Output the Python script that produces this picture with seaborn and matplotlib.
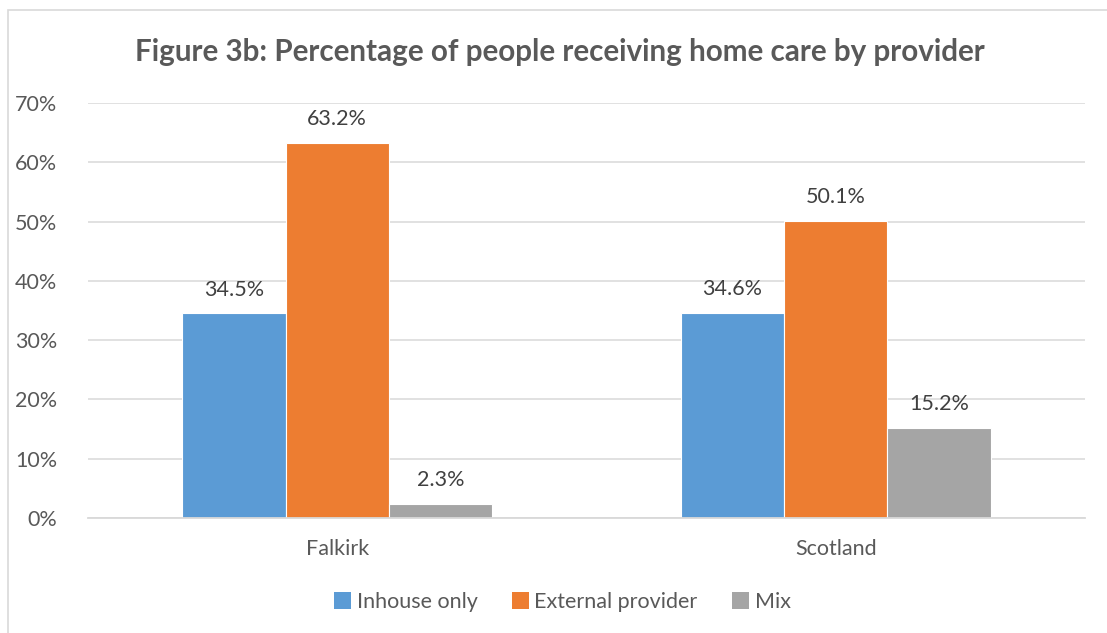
import matplotlib
matplotlib.use("Agg")
import matplotlib.pyplot as plt
from matplotlib.patches import Rectangle, Patch
import seaborn as sns
import pandas as pd

# Chart data
areas = ["Falkirk", "Scotland"]
providers = ["Inhouse only", "External provider", "Mix"]
inhouse_only = [34.5, 34.6]
external_provider = [63.2, 50.1]
mix = [2.3, 15.2]
y_ticks = [0, 10, 20, 30, 40, 50, 60, 70]

colors = ["#5B9BD5", "#ED7D31", "#A5A5A5"]
text_grey = "#595959"
label_grey = "#404040"
grid_grey = "#D9D9D9"

sns.set_theme(style="white")
plt.rcParams["font.family"] = ["Lato", "DejaVu Sans"]

df = pd.DataFrame({
    "area": areas * 3,
    "provider": [p for p in providers for _ in areas],
    "value": inhouse_only + external_provider + mix,
})

fig = plt.figure(figsize=(11.07, 6.33), dpi=100)
ax = fig.add_axes([0.0795, 0.1817, 0.9005, 0.6556])

sns.barplot(data=df, x="area", y="value", hue="provider", order=areas,
            hue_order=providers, palette=colors, width=0.622, ax=ax,
            edgecolor="white", linewidth=0.8, saturation=1, legend=False)

ax.set_ylim(0, 70)
ax.set_yticks(y_ticks)
ax.set_yticklabels([f"{t}%" for t in y_ticks])
ax.yaxis.grid(True, color=grid_grey, linewidth=1.1)
ax.set_axisbelow(True)
for side in ["top", "right", "left"]:
    ax.spines[side].set_visible(False)
ax.spines["bottom"].set_color(grid_grey)
ax.spines["bottom"].set_linewidth(1.3)
ax.tick_params(axis="both", length=0, labelsize=15.5, colors=text_grey)
ax.tick_params(axis="y", pad=22)
ax.tick_params(axis="x", pad=15)
ax.set_xlabel("")
ax.set_ylabel("")

for container in ax.containers:
    ax.bar_label(container, labels=[f"{v:.1f}%" for v in container.datavalues],
                 padding=10, fontsize=15.5, color=label_grey)

fig.text(0.506, 0.918, "Figure 3b: Percentage of people receiving home care by provider",
         ha="center", va="center", fontsize=21.3, fontweight="bold", color=text_grey)

handles = [Patch(facecolor=c, edgecolor="none") for c in colors]
fig.legend(handles, providers, loc="center", bbox_to_anchor=(0.508, 0.049), ncol=3,
           frameon=False, fontsize=15.5, labelcolor=text_grey, handlelength=0.8,
           handleheight=0.8, handletextpad=0.25, columnspacing=1.6)

# Chart area border
fig.patches.append(Rectangle((8 / 1107, -0.05), 1.2, 1 - 10 / 633 + 0.05,
                             transform=fig.transFigure, fill=False,
                             edgecolor=grid_grey, linewidth=1.2))

fig.savefig("out.png", dpi=100, facecolor="white")
